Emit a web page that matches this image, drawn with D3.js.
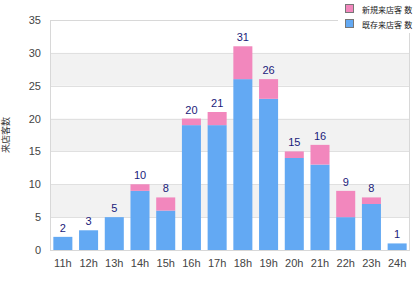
<!DOCTYPE html>
<html>
<head>
<meta charset="utf-8">
<script src="https://cdn.jsdelivr.net/npm/d3@7"></script>
<style>
  body { margin: 0; background: #fff; }
  svg { display: block; font-family: Arial, "Liberation Sans", "Noto Sans CJK JP", sans-serif; }
</style>
</head>
<body>
<script>
// data
var hours = ["11h","12h","13h","14h","15h","16h","17h","18h","19h","20h","21h","22h","23h","24h"];
var blueVals = [2, 3, 5, 9, 6, 19, 19, 26, 23, 14, 13, 5, 7, 1];
var pinkVals = [0, 0, 0, 1, 2, 1, 2, 5, 3, 1, 3, 4, 1, 0];
var yTicks = [0, 5, 10, 15, 20, 25, 30, 35];
var seriesNames = ["新規来店客 数", "既存来店客 数"];
var yTitle = "来店客数";

var w = 420, h = 300;
var pLeft = 50, pRight = 410, pTop = 20, pBottom = 250;
var blue = "#63a9f3", pink = "#f287bd";

var svg = d3.select("body").append("svg")
  .attr("width", w).attr("height", h);

var x = d3.scaleBand().domain(hours).range([pLeft, pRight]).paddingInner(0.26).paddingOuter(0.13);
var y = d3.scaleLinear().domain([0, 35]).range([pBottom, pTop]);

// alternating bands
var bands = [[5,10],[15,20],[25,30]];
svg.selectAll("rect.band").data(bands).enter().append("rect")
  .attr("x", pLeft).attr("width", pRight - pLeft)
  .attr("y", d => y(d[1])).attr("height", d => y(d[0]) - y(d[1]))
  .attr("fill", "#f2f2f2");

// grid lines
svg.selectAll("line.grid").data(yTicks.slice(1, -1)).enter().append("line")
  .attr("x1", pLeft).attr("x2", pRight)
  .attr("y1", d => Math.round(y(d)) + 0.5).attr("y2", d => Math.round(y(d)) + 0.5)
  .attr("stroke", "#e0e0e0");

// frame
svg.append("rect")
  .attr("x", pLeft + 0.5).attr("y", pTop + 0.5)
  .attr("width", pRight - pLeft - 1).attr("height", pBottom - pTop)
  .attr("fill", "none").attr("stroke", "#d8d8d8");

var rows = hours.map((d, i) => ({h: d, b: blueVals[i], p: pinkVals[i]}));

svg.selectAll("rect.blue").data(rows).enter().append("rect")
  .attr("x", d => x(d.h)).attr("width", x.bandwidth())
  .attr("y", d => y(d.b)).attr("height", d => y(0) - y(d.b))
  .attr("fill", blue);

svg.selectAll("rect.pink").data(rows.filter(d => d.p > 0)).enter().append("rect")
  .attr("x", d => x(d.h)).attr("width", x.bandwidth())
  .attr("y", d => y(d.b + d.p)).attr("height", d => y(d.b) - y(d.b + d.p))
  .attr("fill", pink);

// totals
svg.selectAll("text.total").data(rows).enter().append("text")
  .attr("x", d => x(d.h) + x.bandwidth() / 2)
  .attr("y", d => y(d.b + d.p) - 5)
  .attr("text-anchor", "middle")
  .attr("font-size", 11).attr("fill", "#1a1a7a")
  .text(d => d.b + d.p);

// axes
var xAxis = svg.append("g").attr("transform", "translate(0," + pBottom + ")")
  .call(d3.axisBottom(x).tickSize(0).tickPadding(9));
xAxis.select(".domain").remove();
xAxis.selectAll("text").attr("font-size", 11).attr("fill", "#444").attr("font-family", null);

var yAxis = svg.append("g").attr("transform", "translate(" + pLeft + ",0)")
  .call(d3.axisLeft(y).tickValues(yTicks).tickSize(0).tickPadding(9));
yAxis.select(".domain").remove();
yAxis.selectAll("text").attr("font-size", 11).attr("fill", "#444").attr("font-family", null);

svg.append("text")
  .attr("transform", "translate(9," + (pTop + pBottom) / 2 + ") rotate(-90)")
  .attr("text-anchor", "middle").attr("font-size", 9).attr("fill", "#333")
  .text(yTitle);

// legend
svg.append("rect").attr("x", 338).attr("y", 0).attr("width", 82).attr("height", 33).attr("fill", "#fff");
var legColors = [pink, blue];
var leg = svg.selectAll("g.leg").data(seriesNames).enter().append("g")
  .attr("transform", (d, i) => "translate(345," + (4 + i * 15) + ")");
leg.append("rect").attr("x", 0.5).attr("y", 0.5).attr("width", 8).attr("height", 8)
  .attr("fill", (d, i) => legColors[i]).attr("stroke", "#777");
leg.append("text").attr("x", 17).attr("y", 8.5)
  .attr("font-size", 8).attr("fill", "#222").text(d => d);
</script>
</body>
</html>
